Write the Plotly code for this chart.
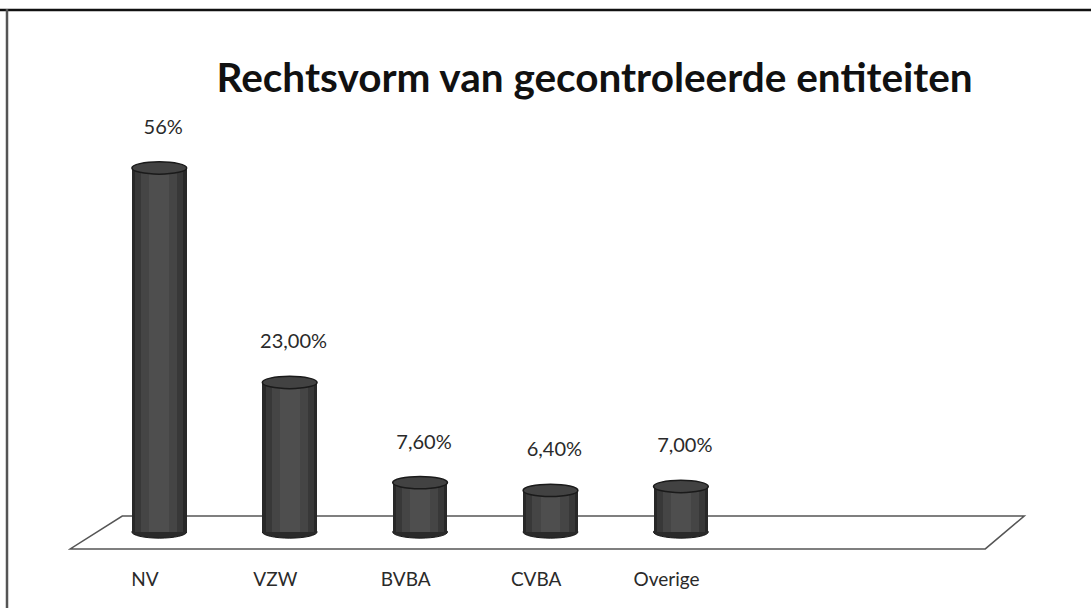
import plotly.graph_objects as go

categories = ["NV", "VZW", "BVBA", "CVBA", "Overige"]
values = [56, 23.0, 7.6, 6.4, 7.0]
value_labels = ["56%", "23,00%", "7,60%", "6,40%", "7,00%"]
title_text = "Rechtsvorm van gecontroleerde entiteiten"

FONT = "Lato, 'Open Sans', sans-serif"
xs = list(range(len(categories)))

BAR_W = 0.42
RY = 0.95          # vertical half-size of the cylinder ellipses (data units)
LABEL_PAD = 6.0    # label offset above the bar top (data units)
XR = [-0.7, 6.7]
YR = [-4.31, 66.46]

fig = go.Figure()

# cylinder bodies: layered bars for a shaded look
for w, col in [(BAR_W, "#282828"), (BAR_W * 0.88, "#383838"), (BAR_W * 0.66, "#454545"), (BAR_W * 0.36, "#4e4e4e")]:
    fig.add_trace(go.Bar(x=xs, y=values, width=w, marker=dict(color=col, line=dict(width=0)),
                         hoverinfo="skip", showlegend=False))

# value labels
fig.add_trace(go.Scatter(x=[x + 0.03 for x in xs], y=[v + LABEL_PAD for v in values], mode="text",
                         text=value_labels, textfont=dict(family=FONT, size=20, color="#2a2a2a"),
                         hoverinfo="skip", showlegend=False))

shapes = []
# floor parallelogram
shapes.append(dict(type="path", xref="x", yref="y", layer="below",
                   path="M -0.683,-2.6 L 6.334,-2.6 L 6.633,2.46 L -0.284,2.46 Z",
                   fillcolor="white", line=dict(color="#555555", width=1.5)))
# bottom ellipses
for x in xs:
    shapes.append(dict(type="circle", xref="x", yref="y", layer="below",
                       x0=x - BAR_W / 2, x1=x + BAR_W / 2, y0=-RY, y1=RY,
                       fillcolor="#2a2a2a", line=dict(color="#1a1a1a", width=1)))
# top ellipses
for x, v in zip(xs, values):
    shapes.append(dict(type="circle", xref="x", yref="y", layer="above",
                       x0=x - BAR_W / 2, x1=x + BAR_W / 2, y0=v - RY, y1=v + RY,
                       fillcolor="#424242", line=dict(color="#1a1a1a", width=1.5)))
# outer frame (top and left edges)
shapes.append(dict(type="line", xref="paper", yref="paper", x0=-68 / 965, x1=1.1, y0=1 + 90 / 460, y1=1 + 90 / 460,
                   line=dict(color="#111111", width=2.5)))
shapes.append(dict(type="line", xref="paper", yref="paper", x0=-61 / 965, x1=-61 / 965, y0=1 + 91 / 460, y1=-0.2,
                   line=dict(color="#555555", width=2.5)))

fig.update_layout(
    width=1091, height=608,
    margin=dict(l=68, r=58, t=100, b=48),
    paper_bgcolor="white", plot_bgcolor="white",
    barmode="overlay", bargap=0,
    shapes=shapes,
    title=dict(text=title_text, x=0.545, xanchor="center", y=0.872, yanchor="middle",
               font=dict(family=FONT, size=40.5, color="#111111", weight="bold")),
    xaxis=dict(range=XR, tickmode="array", tickvals=[x - 0.11 for x in xs], ticktext=categories,
               showgrid=False, zeroline=False, showline=False, ticks="", ticklen=0,
               ticklabelstandoff=6,
               tickfont=dict(family=FONT, size=19, color="#2a2a2a")),
    yaxis=dict(range=YR, showgrid=False, zeroline=False, showline=False, showticklabels=False, ticks=""),
    showlegend=False,
)

fig.write_html("out.html", config={"displayModeBar": False},
               post_script="document.body.style.margin='0';")
